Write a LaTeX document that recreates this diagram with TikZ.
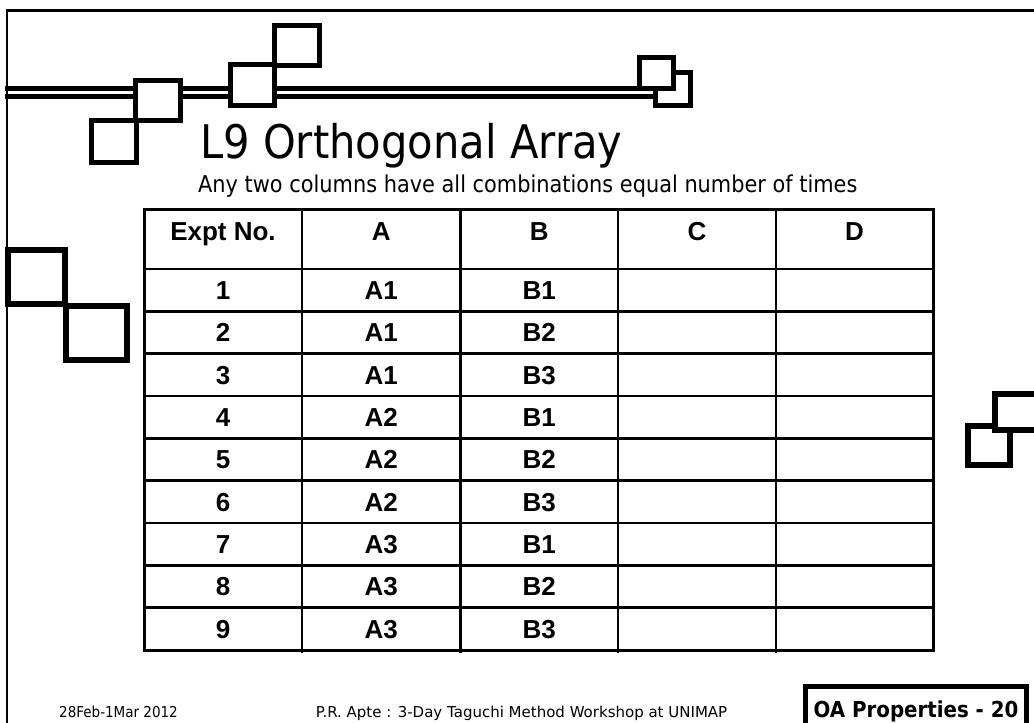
\documentclass[tikz,border=0pt]{standalone}
\usepackage{fontspec}
\newfontfamily\tah{DejaVu Sans}[FakeStretch=0.9]
\newfontfamily\tahw{DejaVu Sans}
\newfontfamily\ari{Liberation Sans}
\begin{document}
\begin{tikzpicture}[x=1pt,y=-1pt,
  sq/.style={draw=black,line width=5pt,fill=white},
  sqb/.style={draw=black,line width=6pt,fill=white},
  tline/.style={line width=2.6pt},
  cell/.style={inner sep=0pt,anchor=base,font=\ari\bfseries\fontsize{26}{28}\selectfont},
  foot/.style={inner sep=0pt,anchor=base,font=\tah\fontsize{15}{18}\selectfont}]
\useasboundingbox[fill=white] (0,0) rectangle (1034,723);
% frame
\draw[line width=2.5pt] (7,723) -- (7,10.5) -- (1034,10.5);
% double line
\draw[line width=4.5pt] (5,88.5) -- (640,88.5);
\draw[line width=5pt] (5,96.5) -- (656,96.5);
% top decoration squares
\draw[sq] (91.5,120.5) rectangle (136.5,162.5);
\draw[sq] (135.5,80.5) rectangle (180.5,120.5);
\draw[sq] (230.5,64.5) rectangle (274.5,105.5);
\draw[sq] (274.5,25.5) rectangle (319.5,65.5);
\draw[sq] (655.5,72.5) rectangle (690.5,105.5);
\draw[sq] (639.5,57.5) rectangle (673.5,88.5);
% left squares
\draw[sqb] (8,250) rectangle (65,304);
\draw[sqb] (66,306) rectangle (127,360);
% right squares
\draw[sqb] (968,426) rectangle (1010,465);
\draw[sqb] (995,394) rectangle (1045,430);
% title
\node[inner sep=0pt,anchor=base west,font=\tah\fontsize{46.3}{50}\selectfont] (title) at (200,158) {L9 Orthogonal Array};
\node[inner sep=0pt,anchor=base west,font=\tah\fontsize{23.2}{26}\selectfont] (subtitle) at (198,192) {Any two columns have all combinations equal number of times};
% table grid
\foreach \x in {302,460.5,618,776} \draw[tline] (\x,209) -- (\x,652.5);
\foreach \k in {0,...,8} \draw[tline] (144,{269+42.333*\k}) -- (933,{269+42.333*\k});
\draw[line width=3pt] (144,209) rectangle (933,650);
% header
\node[cell] (hE) at (223,240.5) {Expt No.};
\node[cell] (hA) at (381.25,240.5) {A};
\node[cell] (hB) at (539.25,240.5) {B};
\node[cell] (hC) at (697,240.5) {C};
\node[cell] (hD) at (854.5,240.5) {D};
% rows
\foreach \r/\a/\b in {1/A1/B1,2/A1/B2,3/A1/B3,4/A2/B1,5/A2/B2,6/A2/B3,7/A3/B1,8/A3/B2,9/A3/B3} {
  \pgfmathsetmacro\yb{269+42.333*(\r-0.5)+9.3}
  \node[cell] (n\r) at (223,\yb) {\r};
  \node[cell] (a\r) at (381.25,\yb) {\a};
  \node[cell] (b\r) at (539.25,\yb) {\b};
}
% footer
\node[foot] (date) at (118.5,717) {28Feb-1Mar 2012};
\node[foot,font=\tahw\fontsize{15}{18}\selectfont] (author) at (521.5,717) {P.R. Apte : 3-Day Taguchi Method Workshop at UNIMAP};
\draw[line width=5pt] (805.5,728) -- (805.5,686.5) -- (1026.5,686.5) -- (1026.5,728);
\node[inner sep=0pt,anchor=base,font=\tah\bfseries\fontsize{22}{24}\selectfont] (oa) at (916,717) {OA Properties - 20};
\end{tikzpicture}
\end{document}
